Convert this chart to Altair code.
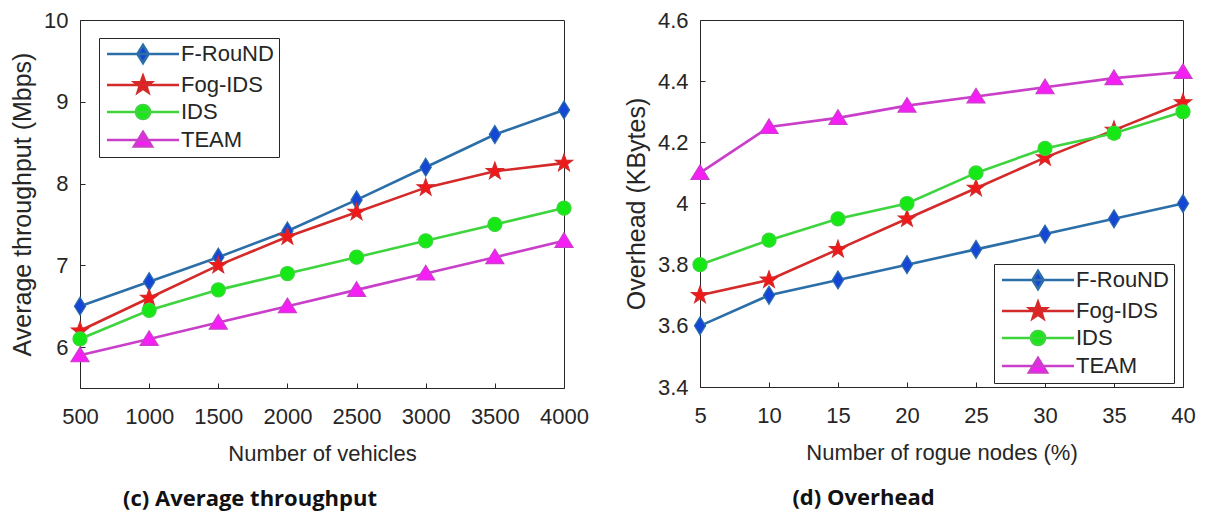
import altair as alt
import pandas as pd

# ---------------- data ----------------
series = ["F-RouND", "Fog-IDS", "IDS", "TEAM"]

vehicles = [500, 1000, 1500, 2000, 2500, 3000, 3500, 4000]
thr_fround = [6.5, 6.8, 7.1, 7.42, 7.8, 8.2, 8.6, 8.9]
thr_fogids = [6.2, 6.6, 7.0, 7.35, 7.65, 7.95, 8.15, 8.25]
thr_ids = [6.1, 6.45, 6.7, 6.9, 7.1, 7.3, 7.5, 7.7]
thr_team = [5.9, 6.1, 6.3, 6.5, 6.7, 6.9, 7.1, 7.3]

rogue = [5, 10, 15, 20, 25, 30, 35, 40]
ovh_fround = [3.6, 3.7, 3.75, 3.8, 3.85, 3.9, 3.95, 4.0]
ovh_fogids = [3.7, 3.75, 3.85, 3.95, 4.05, 4.15, 4.24, 4.33]
ovh_ids = [3.8, 3.88, 3.95, 4.0, 4.1, 4.18, 4.23, 4.3]
ovh_team = [4.1, 4.25, 4.28, 4.32, 4.35, 4.38, 4.41, 4.43]

thr_ticks_x = [500, 1000, 1500, 2000, 2500, 3000, 3500, 4000]
thr_ticks_y = [6, 7, 8, 9, 10]
ovh_ticks_x = [5, 10, 15, 20, 25, 30, 35, 40]
ovh_ticks_y = [3.4, 3.6, 3.8, 4.0, 4.2, 4.4, 4.6]

# ---------------- style ----------------
line_colors = ["#2b6ea8", "#d42a2a", "#3ed43e", "#c93fc9"]
fill_colors = ["#1646d6", "#f01818", "#16e816", "#f51ef5"]

diamond = "M0,-1L0.62,0L0,1L-0.62,0Z"
star = ("M0,-1L0.24,-0.33L0.95,-0.31L0.38,0.13L0.59,0.81L0,0.4"
        "L-0.59,0.81L-0.38,0.13L-0.95,-0.31L-0.24,-0.33Z")
circle = "M-0.78,0A0.78,0.78 0 1,0 0.78,0A0.78,0.78 0 1,0 -0.78,0Z"
triangle = "M0,-0.9L1,0.72L-1,0.72Z"
marker_paths = [diamond, star, circle, triangle]
legend_paths = ["M-4,0L4,0" + p for p in marker_paths]

FONT = "Liberation Sans"
INK = "#262626"


def make_df(xs, ys_list):
    rows = []
    for name, ys in zip(series, ys_list):
        for xv, yv in zip(xs, ys):
            rows.append({"x": xv, "y": yv, "series": name})
    return pd.DataFrame(rows)


def panel(df, xtitle, xvals, ytitle, yvals, ydomain, yfmt, width, height,
          title, title_dx, legend_x, legend_y):
    base = alt.Chart(df).encode(
        x=alt.X("x:Q",
                scale=alt.Scale(domain=[xvals[0], xvals[-1]], nice=False, zero=False),
                axis=alt.Axis(values=xvals, title=xtitle, format="d", labelOverlap=False,
                              labelFlush=False, labelPadding=18, titlePadding=16)),
        y=alt.Y("y:Q",
                scale=alt.Scale(domain=ydomain, nice=False, zero=False),
                axis=alt.Axis(values=yvals, title=ytitle, format=yfmt, labelOverlap=False,
                              labelFlush=False, labelPadding=12, titlePadding=8,
                              titleFontSize=25)),
    )
    stroke_scale = alt.Scale(domain=series, range=line_colors)
    fill_scale = alt.Scale(domain=series, range=fill_colors)

    lines = base.mark_line(strokeWidth=2.6).encode(
        stroke=alt.Stroke("series:N", scale=stroke_scale, legend=None),
        order="x:Q",
    )
    pts = base.mark_point(filled=True, size=324, strokeWidth=1.2, opacity=1).encode(
        shape=alt.Shape("series:N", scale=alt.Scale(domain=series, range=marker_paths), legend=None),
        fill=alt.Fill("series:N", scale=fill_scale, legend=None),
        stroke=alt.Stroke("series:N", scale=stroke_scale, legend=None),
    )
    leg = alt.Legend(
        title=None, orient="none", legendX=legend_x, legendY=legend_y,
        fillColor="white", strokeColor=INK, cornerRadius=0,
        padding=5, rowPadding=1, symbolSize=324, symbolStrokeWidth=2.6,
        symbolOffset=28, labelOffset=27, labelFont=FONT, labelFontSize=22,
        labelColor=INK, labelLimit=300,
    )
    legend_layer = alt.Chart(df).transform_filter("false").mark_point(
        filled=True, size=324, strokeWidth=2.6, opacity=1
    ).encode(
        shape=alt.Shape("series:N", scale=alt.Scale(domain=series, range=legend_paths), legend=leg),
        fill=alt.Fill("series:N", scale=fill_scale, legend=leg),
        stroke=alt.Stroke("series:N", scale=stroke_scale, legend=leg),
    )
    return alt.layer(lines, pts, legend_layer).resolve_scale(
        shape="independent", fill="independent", stroke="independent"
    ).properties(
        width=width, height=height,
        title=alt.TitleParams(text=title, orient="bottom", anchor="middle",
                              font="Open Sans", fontSize=22, fontWeight="bold",
                              color="#111111", dx=title_dx, offset=25),
    )


df_thr = make_df(vehicles, [thr_fround, thr_fogids, thr_ids, thr_team])
df_ovh = make_df(rogue, [ovh_fround, ovh_fogids, ovh_ids, ovh_team])

left = panel(df_thr, "Number of vehicles", thr_ticks_x, "Average throughput (Mbps)",
             thr_ticks_y, [5.5, 10], "d", 484, 368, "(c) Average throughput", -72, 19, 18)
right = panel(df_ovh, "Number of rogue nodes (%)", ovh_ticks_x, "Overhead (KBytes)",
              ovh_ticks_y, [3.4, 4.6], "~g", 483, 367, "(d) Overhead", -78, 294, 244)

chart = alt.hconcat(left, right, spacing=34).properties(
    padding={"left": 2, "top": 0, "right": 0, "bottom": 0},
    background="white",
).configure_view(
    stroke=INK, strokeWidth=1
).configure_axis(
    domain=False, grid=False, ticks=True, tickSize=5, offset=-5,
    tickColor=INK, tickWidth=1,
    labelFont=FONT, labelFontSize=22, labelColor=INK,
    titleFont=FONT, titleFontSize=22, titleFontWeight="normal", titleColor=INK,
)

chart.save("out.html", embed_options={"renderer": "svg", "actions": False})
